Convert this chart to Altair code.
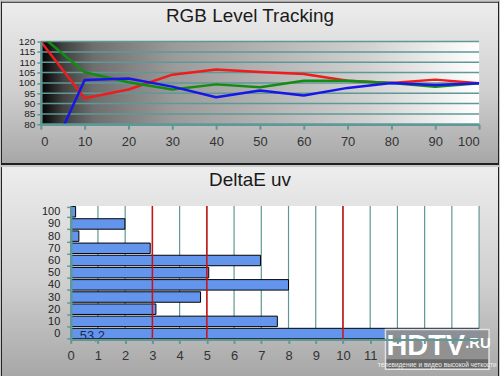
import altair as alt
import pandas as pd

# ---------------- data ----------------
levels = [0, 10, 20, 30, 40, 50, 60, 70, 80, 90, 100]
red = [120.0, 92.6, 96.8, 104.0, 106.5, 105.3, 104.3, 101.1, 100.0, 101.6, 99.8]
green = [123.0, 105.2, 100.3, 96.8, 99.3, 97.9, 101.1, 101.0, 100.0, 98.2, 99.8]
blue = [55.0, 101.4, 102.1, 98.2, 93.1, 96.3, 93.9, 97.6, 100.0, 99.0, 99.8]
top_y_ticks = [80, 85, 90, 95, 100, 105, 110, 115, 120]

de_cats = ["100", "90", "80", "70", "60", "50", "40", "30", "20", "10", "0"]
de_vals = [0.18, 1.99, 0.3, 2.92, 6.97, 5.07, 8.0, 4.77, 3.13, 7.59, 53.2]
de_text = ["", "", "", "", "", "", "", "", "", "", "53,2"]
thresholds = [3, 5, 10]
bottom_x_ticks = list(range(16))

FONT = "Liberation Sans"
TEAL = "#5f9894"

rgb_df = pd.DataFrame({"level": levels, "R": red, "G": green, "B": blue})
grid_top_df = pd.DataFrame({"v": top_y_ticks})
de_df = pd.DataFrame({"cat": de_cats, "de": de_vals, "txt": de_text})
grid_bot_df = pd.DataFrame({"g": bottom_x_ticks[1:]})
thr_df = pd.DataFrame({"t": thresholds})
one = alt.Data(values=[{"a": 1}])

# ---------------- top panel ----------------
W, H1, H2 = 440, 83, 134
xs_top = alt.Scale(domain=[0, 100], nice=False)
ys_top = alt.Scale(domain=[80, 120], nice=False, zero=False)

panel_grad = alt.LinearGradient(
    gradient="linear", x1=0, x2=0, y1=0, y2=1,
    stops=[alt.GradientStop(color="#ededed", offset=0),
           alt.GradientStop(color="#cfcfcf", offset=0.55),
           alt.GradientStop(color="#a6a6a6", offset=1)])

plot_grad = alt.LinearGradient(
    gradient="linear", x1=0, x2=1, y1=0, y2=0,
    stops=[alt.GradientStop(color="#000000", offset=0),
           alt.GradientStop(color="#404040", offset=0.05),
           alt.GradientStop(color="#6e6e6e", offset=0.12),
           alt.GradientStop(color="#9a9a9a", offset=0.3),
           alt.GradientStop(color="#b2b2b2", offset=0.5),
           alt.GradientStop(color="#d2d2d2", offset=0.75),
           alt.GradientStop(color="#ffffff", offset=1)])

x_axis_top = alt.Axis(values=levels, title=None, grid=False, orient="bottom",
                      domainColor=TEAL, domainWidth=2.5, tickColor=TEAL, tickWidth=2,
                      tickSize=5, labelPadding=6, labelFont=FONT, labelFontSize=13,
                      labelColor="#333333", zindex=1)
y_axis_top = alt.Axis(values=top_y_ticks, title=None, grid=False, orient="left",
                      domainColor=TEAL, domainWidth=2.5, tickColor=TEAL, tickWidth=1.5,
                      tickSize=4, labelPadding=2, labelFont=FONT, labelFontSize=10,
                      labelColor="#222222", labelOverlap=False, labelBaseline="middle",
                      labelFlush=False, zindex=1)

top_bg = alt.Chart(one).mark_rect(color=panel_grad).encode(
    x=alt.value(-40), x2=alt.value(460), y=alt.value(-40), y2=alt.value(124))

top_title = alt.Chart(one).mark_text(
    text="RGB Level Tracking", font=FONT, fontSize=19, color="#1a1a1a",
    align="center", baseline="alphabetic").encode(x=alt.value(210), y=alt.value(-20))

top_plot_bg = alt.Chart(one).mark_rect(color=plot_grad).encode(
    x=alt.XDatum(0, scale=xs_top, axis=x_axis_top), x2=alt.X2Datum(100),
    y=alt.YDatum(80, scale=ys_top, axis=y_axis_top), y2=alt.Y2Datum(120))

top_grid = alt.Chart(grid_top_df).mark_rule(color=TEAL, strokeWidth=1.5).encode(
    y=alt.Y("v:Q", scale=ys_top, axis=y_axis_top))


def series_line(col, color):
    return alt.Chart(rgb_df).mark_line(color=color, strokeWidth=2.5, clip=True,
                                       strokeJoin="round").encode(
        x=alt.X("level:Q", scale=xs_top, axis=x_axis_top),
        y=alt.Y(f"{col}:Q", scale=ys_top, axis=y_axis_top))


line_r = series_line("R", "#ee1c1c")
line_g = series_line("G", "#148c14")
line_b = series_line("B", "#1616e8")

sep = alt.Chart(one).mark_rule(color="#202020", strokeWidth=2).encode(
    x=alt.value(-40), x2=alt.value(460), y=alt.value(123))
top_border = alt.Chart(one).mark_rule(color="#202020", strokeWidth=1).encode(
    x=alt.value(-40), x2=alt.value(460), y=alt.value(-39.5))
top_left = alt.Chart(one).mark_rule(color="#202020", strokeWidth=1).encode(
    x=alt.value(-39.5), y=alt.value(-40), y2=alt.value(124))
top_right = alt.Chart(one).mark_rule(color="#202020", strokeWidth=1).encode(
    x=alt.value(459.5), y=alt.value(-40), y2=alt.value(124))

top = alt.layer(top_bg, top_title, top_plot_bg, top_grid, line_r, line_g, line_b,
                sep, top_border, top_left, top_right).properties(width=W, height=H1)

# ---------------- bottom panel ----------------
xs_bot = alt.Scale(domain=[0, 15], range=[30, 440], nice=False)
ys_bot = alt.Scale(domain=de_cats, paddingInner=0.14, paddingOuter=0.05)

x_axis_bot = alt.Axis(values=bottom_x_ticks, title=None, grid=False, orient="bottom",
                      domainColor=TEAL, domainWidth=2, tickColor=TEAL, tickWidth=2,
                      tickSize=4, labelPadding=6, labelFont=FONT, labelFontSize=13,
                      labelColor="#333333", labelFlush=False,
                      labelExpr="datum.value <= 11 ? datum.label : ''", zindex=1)
y_axis_bot = alt.Axis(title=None, grid=False, orient="left", offset=-30,
                      domainColor=TEAL, domainWidth=2.5, tickColor=TEAL, tickWidth=1.5,
                      tickSize=4, tickBand="extent", labelPadding=7, labelFont=FONT,
                      labelFontSize=11, labelColor="#222222", labelOverlap=False,
                      zindex=1)

bot_bg = alt.Chart(one).mark_rect(color=panel_grad).encode(
    x=alt.value(-40), x2=alt.value(460), y=alt.value(-39), y2=alt.value(173))

bot_title = alt.Chart(one).mark_text(
    text="DeltaE uv", font=FONT, fontSize=19, color="#1a1a1a",
    align="center", baseline="alphabetic").encode(x=alt.value(210), y=alt.value(-20))

bot_plot_bg = alt.Chart(one).mark_rect(color="#ffffff").encode(
    x=alt.XDatum(0, scale=xs_bot, axis=x_axis_bot), x2=alt.X2Datum(15),
    y=alt.value(0), y2=alt.value(H2))

bot_grid = alt.Chart(grid_bot_df).mark_rule(color=TEAL, strokeWidth=1.2).encode(
    x=alt.X("g:Q", scale=xs_bot, axis=x_axis_bot))

bars = alt.Chart(de_df).mark_bar(color="#6495ed", stroke="#000000", strokeWidth=1,
                                 clip=True).encode(
    x=alt.X("de:Q", scale=xs_bot, axis=x_axis_bot),
    y=alt.Y("cat:O", scale=ys_bot, sort=de_cats, axis=y_axis_bot))

thr = alt.Chart(thr_df).mark_rule(color="#d01010", strokeWidth=1.5).encode(
    x=alt.X("t:Q", scale=xs_bot, axis=x_axis_bot))

bar_text = alt.Chart(de_df).transform_filter("datum.txt != ''").mark_text(
    font=FONT, fontSize=13, color="#1c2a55", align="left", baseline="middle",
    dx=9, dy=2).encode(
    x=alt.XDatum(0, scale=xs_bot, axis=x_axis_bot),
    y=alt.Y("cat:O", scale=ys_bot, sort=de_cats, axis=y_axis_bot),
    text="txt:N")

logo_box = alt.Chart(one).mark_rect(color="#8f8f8f", opacity=0.92, stroke="#e6e6e6",
                                    strokeWidth=1.5).encode(
    x=alt.value(346), x2=alt.value(450), y=alt.value(124), y2=alt.value(164))
logo_strip = alt.Chart(one).mark_rect(color="#666666").encode(
    x=alt.value(347), x2=alt.value(449), y=alt.value(154), y2=alt.value(163))
logo_hd = alt.Chart(one).mark_text(text="HDTV", font=FONT, fontWeight="bold", fontSize=29,
                                   color="#ffffff", align="left",
                                   baseline="alphabetic").encode(
    x=alt.value(347), y=alt.value(150))
logo_ru = alt.Chart(one).mark_text(text=".RU", font=FONT, fontWeight="bold", fontSize=15,
                                   color="#ffffff", align="left",
                                   baseline="alphabetic").encode(
    x=alt.value(426), y=alt.value(143))
logo_small = alt.Chart(one).mark_text(text="телевидение и видео высокой четкости",
                                      font=FONT, fontSize=6.5, color="#f0f0f0",
                                      align="center", baseline="alphabetic").encode(
    x=alt.value(398), y=alt.value(161.5))

bot_left = alt.Chart(one).mark_rule(color="#202020", strokeWidth=1).encode(
    x=alt.value(-39.5), y=alt.value(-39), y2=alt.value(173))
bot_right = alt.Chart(one).mark_rule(color="#202020", strokeWidth=1).encode(
    x=alt.value(459.5), y=alt.value(-39), y2=alt.value(173))
bot_bottom = alt.Chart(one).mark_rule(color="#202020", strokeWidth=1).encode(
    x=alt.value(-40), x2=alt.value(460), y=alt.value(172.5))

bottom = alt.layer(bot_bg, bot_title, bot_plot_bg, bot_grid, bars, thr, bar_text,
                   logo_box, logo_strip, logo_hd, logo_ru, logo_small,
                   bot_left, bot_right, bot_bottom).properties(width=W, height=H2)

chart = alt.vconcat(top, bottom, spacing=0).properties(
    padding=0, background="#c8c8c8"
).configure_view(stroke=None).configure_axis(grid=False, zindex=1)

chart.save("out.html", embed_options={"renderer": "svg", "actions": False})
